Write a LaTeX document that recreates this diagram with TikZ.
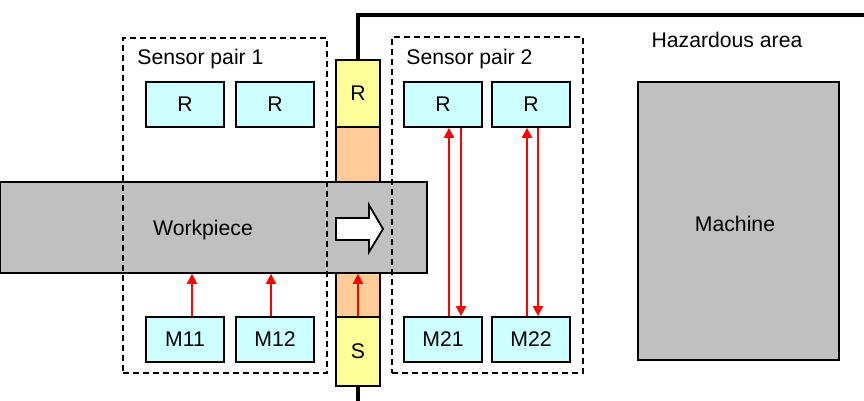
\documentclass[tikz,border=0pt]{standalone}
\usepackage{fontspec}
\setmainfont{Liberation Sans}
\usepackage{tikz}
\usetikzlibrary{arrows.meta}
\definecolor{boxcyan}{HTML}{CCFFFF}
\definecolor{colyellow}{HTML}{FFFF99}
\definecolor{colorange}{HTML}{FFCC99}
\definecolor{wpgray}{HTML}{C0C0C0}
\tikzset{
  >={Triangle[width=5pt,length=5pt]},
  sensorbox/.style={draw,line width=0.9pt,fill=boxcyan,minimum width=39pt,minimum height=22.5pt,inner sep=0pt},
  colbox/.style={draw,line width=0.9pt,minimum width=22pt,inner sep=0pt},
  pairbox/.style={draw,dashed,dash pattern=on 3pt off 2pt,line width=0.6pt,inner sep=0pt},
  beam/.style={red,line width=1pt},
  wall/.style={line width=1.6pt},
  lbl/.style={inner sep=0pt}
}
\begin{document}
\begin{tikzpicture}[x=0.5pt,y=-0.5pt,font=\fontsize{10.6}{13}\selectfont]
        \useasboundingbox (0,0) rectangle (864,401);
        \node (rs) [colbox,fill=colyellow,minimum height=33.5pt] at (358,93.5) {R};
        \node (mid) [colbox,fill=colorange,minimum height=95pt] at (358,222) {};
        \node (ss) [colbox,fill=colyellow,minimum height=34.5pt] at (358,351.5) {S};
        \node (wp) [draw,line width=0.9pt,fill=wpgray,minimum width=213.5pt,minimum height=45.5pt,inner sep=0pt] at (213.5,227.5) {};
        \node (wptext) [lbl] at (203,230) {Workpiece};
        \draw[line width=0.9pt,fill=white] (336,218) -- (369,218) -- (369,205) -- (383,229) -- (369,252) -- (369,240) -- (336,240) -- cycle;
        \node (pair1) [pairbox,minimum width=102pt,minimum height=167.5pt] at (225,205.5) {};
        \node (pair2) [pairbox,minimum width=95.5pt,minimum height=168pt] at (487.5,205) {};
        \node (pair1text) [lbl,anchor=west] at (137,59) {Sensor pair 1};
        \node (pair2text) [lbl,anchor=west] at (406,59) {Sensor pair 2};
        \node (r11) [sensorbox] at (185,104.5) {R};
        \node (r12) [sensorbox] at (275,104.5) {R};
        \node (r21) [sensorbox] at (443,104.5) {R};
        \node (r22) [sensorbox] at (531,104.5) {R};
        \node (m11) [sensorbox] at (185,339.5) {M11};
        \node (m12) [sensorbox] at (275,339.5) {M12};
        \node (m21) [sensorbox] at (443,339.5) {M21};
        \node (m22) [sensorbox] at (531,339.5) {M22};
        \draw[beam,->] ([xshift=3.5pt]m11.north) -- ([xshift=3.5pt]m11.north |- wp.south);
        \draw[beam,->] ([xshift=-2pt]m12.north) -- ([xshift=-2pt]m12.north |- wp.south);
        \draw[beam,->] (ss.north) -- (ss.north |- wp.south);
        \draw[beam,->] ([xshift=3pt]m21.north) -- ([xshift=3pt]r21.south);
        \draw[beam,->] ([xshift=9pt]r21.south) -- ([xshift=9pt]m21.north);
        \draw[beam,->] ([xshift=-2pt]m22.north) -- ([xshift=-2pt]r22.south);
        \draw[beam,->] ([xshift=3.5pt]r22.south) -- ([xshift=3.5pt]m22.north);
        \coordinate (wallend) at (864,15);
        \coordinate (wallbot) at (358,401);
        \draw[wall] (rs.north) |- (wallend);
        \draw[wall] (ss.south) -- (wallbot);
        \node (hazard) [lbl] at (727,40) {Hazardous area};
        \node (machine) [draw,line width=0.9pt,fill=wpgray,minimum width=100.5pt,minimum height=139pt,inner sep=0pt] at (738.5,221) {};
        \node (machinetext) [lbl] at (735,224) {Machine};
\end{tikzpicture}
\end{document}
